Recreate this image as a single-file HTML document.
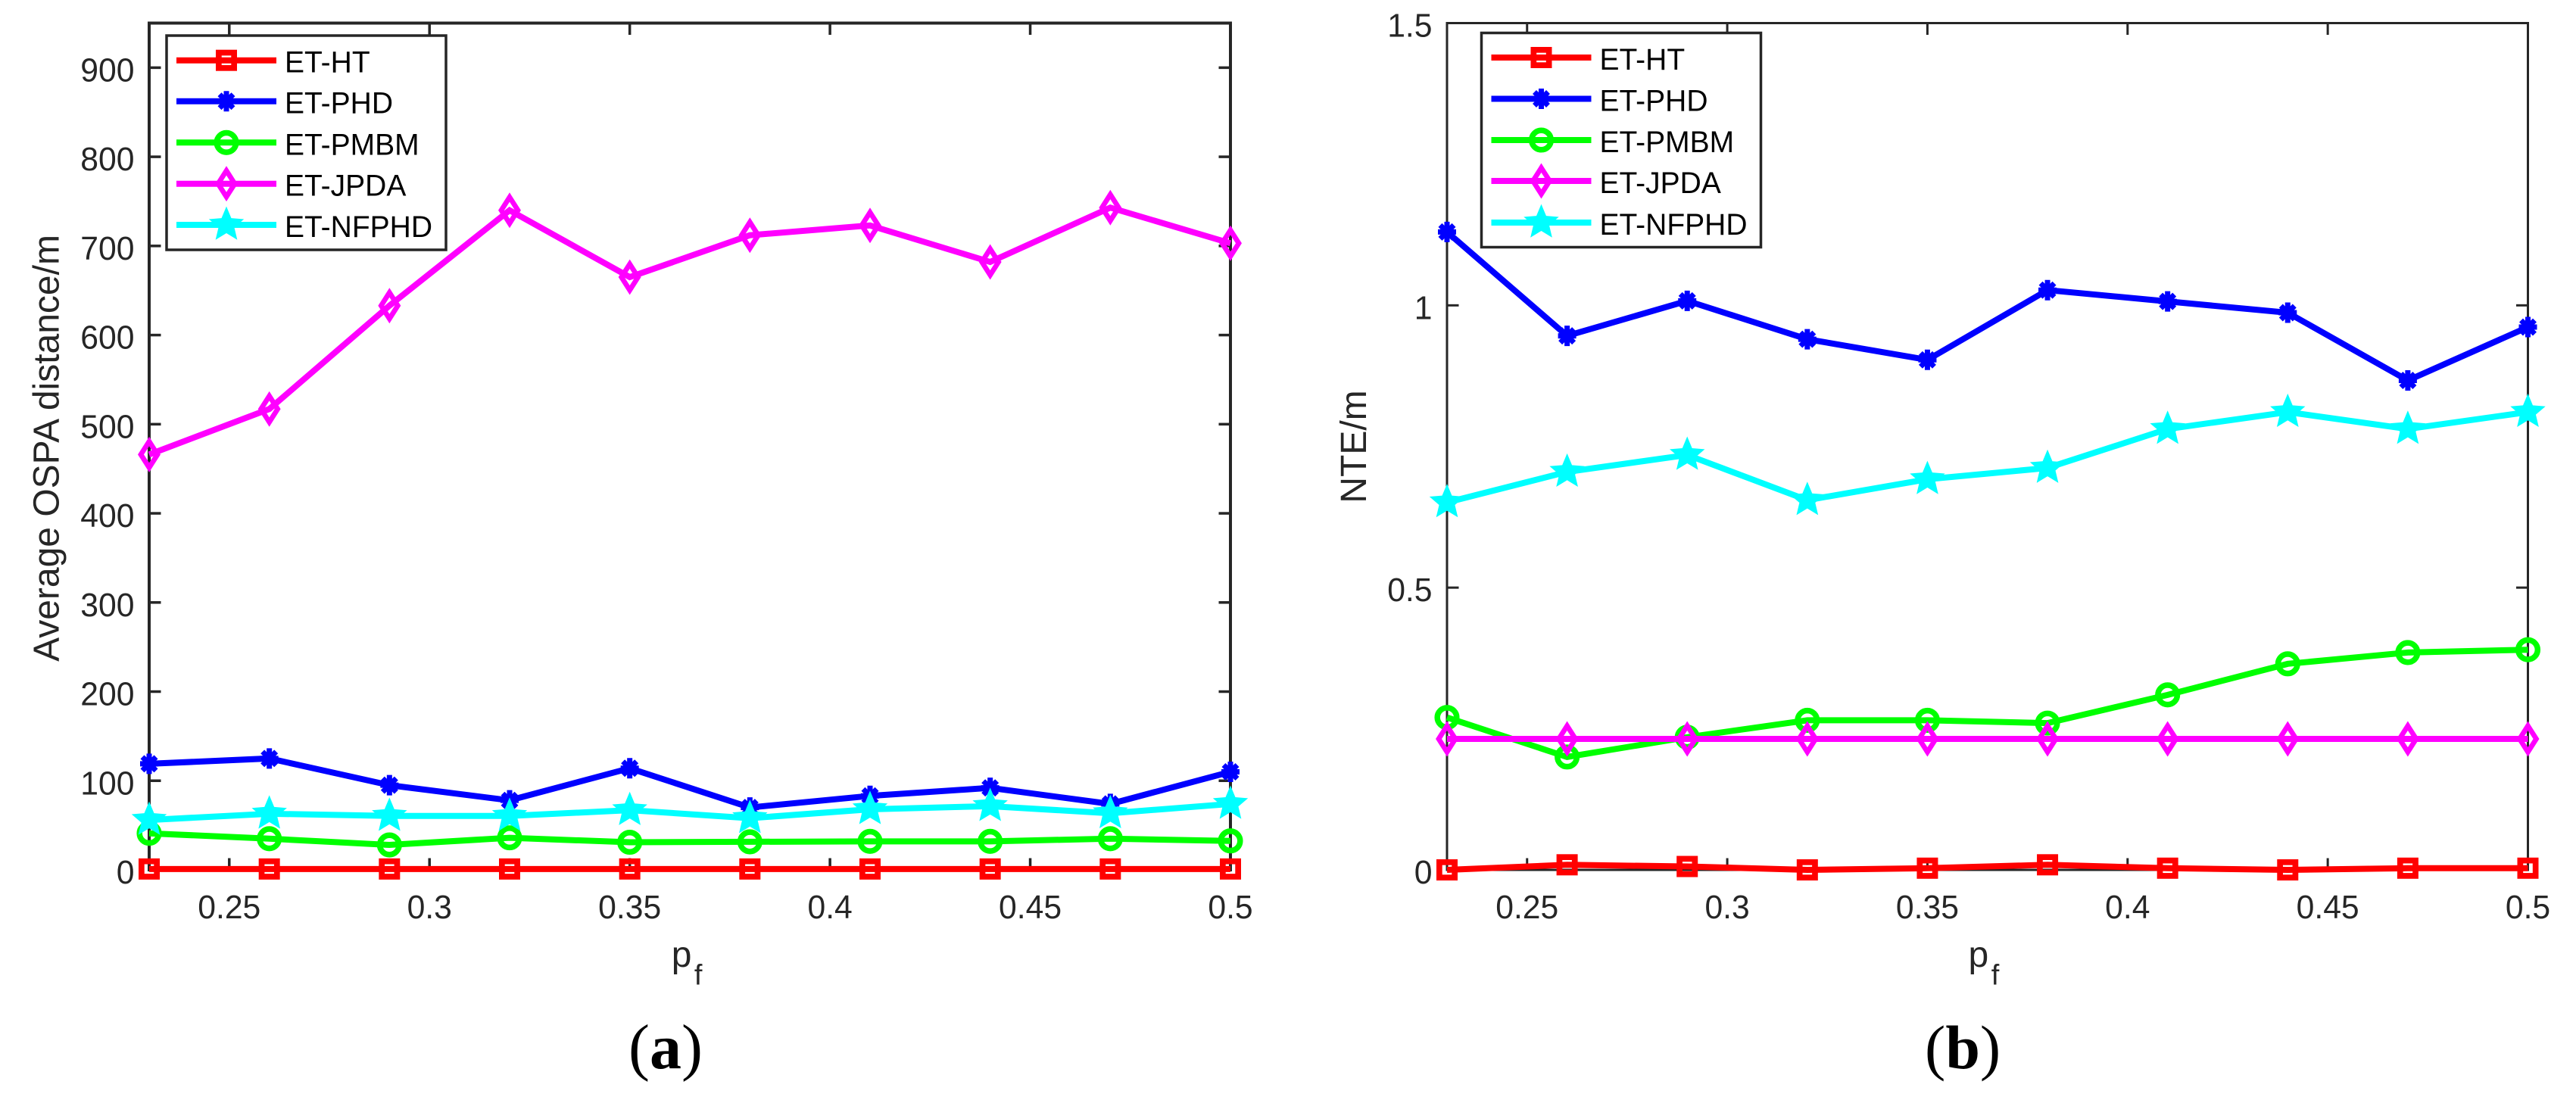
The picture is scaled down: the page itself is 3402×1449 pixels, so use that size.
<!DOCTYPE html>
<html lang="en">
<head>
<meta charset="utf-8">
<title>OSPA and NTE versus pf</title>
<style>
html,body{margin:0;padding:0;background:#fff;width:3402px;height:1449px;overflow:hidden}
svg{display:block;font-family:"Liberation Sans",sans-serif}
</style>
</head>
<body>
<svg id="figure" xmlns="http://www.w3.org/2000/svg" width="3402" height="1449" viewBox="0 0 3402 1449">
  <rect x="0" y="0" width="3402" height="1449" fill="#fff"/>
  <g id="panel-a"></g>
  <g id="panel-b"></g>
  <text transform="translate(77.5 592) rotate(-90)" text-anchor="middle" font-size="48" fill="#262626">Average OSPA distance/m</text>
  <text transform="translate(1804 590) rotate(-90)" text-anchor="middle" font-size="48" fill="#262626">NTE/m</text>
  <text x="886.7" y="1277" font-size="48" fill="#262626">p<tspan font-size="38" dx="3.5" dy="23.5">f</tspan></text>
  <text x="2599.5" y="1277" font-size="48" fill="#262626">p<tspan font-size="38" dx="3.5" dy="23.5">f</tspan></text>
  <text x="830" y="1411" font-size="84" fill="#000" style="font-family:'Liberation Serif',serif">(<tspan font-weight="bold">a</tspan>)</text>
  <text x="2542" y="1411" font-size="82" fill="#000" style="font-family:'Liberation Serif',serif">(<tspan font-weight="bold">b</tspan>)</text>
</svg>
<script>
const categories = [0.23, 0.26, 0.29, 0.32, 0.35, 0.38, 0.41, 0.44, 0.47, 0.5];
const seriesNames = ['ET-HT', 'ET-PHD', 'ET-PMBM', 'ET-JPDA', 'ET-NFPHD'];

const ospaHT = [1, 1, 1, 1, 1, 1, 1, 1, 1, 1];
const ospaPHD = [119, 125, 95, 78, 114, 70, 83, 92, 74, 110];
const ospaPMBM = [41, 35, 28, 36, 31, 31.5, 32, 32, 35, 32.5];
const ospaJPDA = [466, 517, 633, 740, 665, 712, 723, 682, 743, 703];
const ospaNFPHD = [56, 63, 60.5, 60.5, 67, 58, 68, 71.5, 63.5, 74];

const nteHT = [0, 0.009, 0.006, 0, 0.003, 0.009, 0.003, 0, 0.003, 0.003];
const ntePHD = [1.13, 0.946, 1.008, 0.94, 0.9035, 1.027, 1.007, 0.987, 0.867, 0.9615];
const ntePMBM = [0.27, 0.2, 0.235, 0.265, 0.265, 0.26, 0.31, 0.365, 0.385, 0.39];
const nteJPDA = [0.232, 0.232, 0.232, 0.232, 0.232, 0.232, 0.232, 0.232, 0.232, 0.232];
const nteNFPHD = [0.651, 0.705, 0.735, 0.655, 0.692, 0.712, 0.781, 0.811, 0.781, 0.811];

const xTickValues = [0.25, 0.3, 0.35, 0.4, 0.45, 0.5];
const xTickLabels = ['0.25', '0.3', '0.35', '0.4', '0.45', '0.5'];
const yTickValuesA = [0, 100, 200, 300, 400, 500, 600, 700, 800, 900];
const yTickLabelsA = ['0', '100', '200', '300', '400', '500', '600', '700', '800', '900'];
const yTickValuesB = [0, 0.5, 1, 1.5];
const yTickLabelsB = ['0', '0.5', '1', '1.5'];

const NS = 'http://www.w3.org/2000/svg';
const INK = '#262626';
const COLORS = ['#ff0000', '#0000ff', '#00ff00', '#ff00ff', '#00ffff'];
const MARKERS = ['square', 'asterisk', 'circle', 'diamond', 'star'];

function make(tag, parent, attrs) {
  const el = document.createElementNS(NS, tag);
  for (const k in attrs) el.setAttribute(k, attrs[k]);
  parent.appendChild(el);
  return el;
}

function drawMarker(parent, kind, cx, cy, color) {
  const g = make('g', parent, {});
  
  
  if (kind === 'square') {
    make('rect', g, {x: cx - 10.15, y: cy - 10.15, width: 20.3, height: 20.3, fill: 'none', stroke: color, 'stroke-width': 7.7});
  } else if (kind === 'circle') {
    make('circle', g, {cx: cx, cy: cy, r: 12.8, fill: 'none', stroke: color, 'stroke-width': 7.5});
  } else if (kind === 'diamond') {
    make('polygon', g, {points: [cx, cy - 17.25, cx + 11, cy, cx, cy + 17.25, cx - 11, cy].join(' '), fill: 'none', stroke: color, 'stroke-width': 6.7, 'stroke-miterlimit': 12});
  } else if (kind === 'asterisk') {
    const r = 12;
    const d = 9;
    make('circle', g, {cx: cx, cy: cy, r: 9, fill: color});
    make('path', g, {d: 'M' + cx + ' ' + (cy - r - 1.5) + 'V' + (cy + r + 1.5) + 'M' + (cx - r) + ' ' + cy + 'H' + (cx + r) + 'M' + (cx - d) + ' ' + (cy - d) + 'L' + (cx + d) + ' ' + (cy + d) + 'M' + (cx - d) + ' ' + (cy + d) + 'L' + (cx + d) + ' ' + (cy - d), stroke: color, 'stroke-width': 7, fill: 'none'});
  } else {
    const pts = [];
    for (let i = 0; i < 10; i++) {
      const rad = i % 2 === 0 ? 24.4 : 11;
      const a = -Math.PI / 2 + i * Math.PI / 5;
      pts.push((cx + rad * Math.cos(a)).toFixed(2) + ',' + (cy + rad * Math.sin(a)).toFixed(2));
    }
    make('polygon', g, {points: pts.join(' '), fill: color});
  }
}

function drawPanel(cfg) {
  const root = document.getElementById(cfg.id);
  const xScale = v => cfg.left + (v - cfg.xMin) / (cfg.xMax - cfg.xMin) * (cfg.right - cfg.left);
  const yScale = v => cfg.bottom - (v - cfg.yMin) / (cfg.yMax - cfg.yMin) * (cfg.bottom - cfg.top);

  const frame = make('rect', root, {x: cfg.left, y: cfg.top, width: cfg.right - cfg.left, height: cfg.bottom - cfg.top, fill: 'none', stroke: INK, 'stroke-width': cfg.axisWidth});
  
  

  const tickLen = 15.5;
  cfg.xTicks.forEach((v, i) => {
    const x = xScale(v);
    const t1 = make('line', root, {x1: x, x2: x, y1: cfg.bottom, y2: cfg.bottom - tickLen, stroke: INK, 'stroke-width': cfg.tickWidth});
    
    
    const t2 = make('line', root, {x1: x, x2: x, y1: cfg.top, y2: cfg.top + tickLen, stroke: INK, 'stroke-width': cfg.tickWidth});
    
    
    const label = make('text', root, {transform: 'translate(' + x + ' 1213) scale(0.97 1)', 'text-anchor': 'middle', 'font-size': 44, fill: INK});
    
    
    label.textContent = cfg.xLabels[i];
  });
  cfg.yTicks.forEach((v, i) => {
    const y = yScale(v);
    const t1 = make('line', root, {x1: cfg.left, x2: cfg.left + tickLen, y1: y, y2: y, stroke: INK, 'stroke-width': cfg.tickWidth});
    
    
    const t2 = make('line', root, {x1: cfg.right, x2: cfg.right - tickLen, y1: y, y2: y, stroke: INK, 'stroke-width': cfg.tickWidth});
    
    
    const label = make('text', root, {transform: 'translate(' + cfg.labelRight + ' ' + (y + 18) + ') scale(0.97 1)', 'text-anchor': 'end', 'font-size': 44, fill: INK});
    
    
    label.textContent = cfg.yLabels[i];
  });

  cfg.series.forEach((values, s) => {
    const g = make('g', root, {});
    
    
    const pts = values.map((v, i) => xScale(categories[i]).toFixed(2) + ',' + yScale(v).toFixed(2));
    const line = make('polyline', g, {points: pts.join(' '), fill: 'none', stroke: COLORS[s], 'stroke-width': 8, 'stroke-linejoin': 'miter'});
    
    
    values.forEach((v, i) => drawMarker(g, MARKERS[s], xScale(categories[i]), yScale(v), COLORS[s]));
  });

  const leg = make('g', root, {});
  
  
  const L = cfg.legend;
  const box = make('rect', leg, {x: L.x, y: L.y, width: L.w, height: L.h, fill: '#fff', stroke: INK, 'stroke-width': 3.5});
  
  
  seriesNames.forEach((name, s) => {
    const y = L.rows[s];
    const entry = make('g', leg, {});
    
    
    make('line', entry, {x1: L.x + 13, x2: L.x + 145, y1: y, y2: y, stroke: COLORS[s], 'stroke-width': 8});
    drawMarker(entry, MARKERS[s], L.x + 79, y, COLORS[s]);
    const t = make('text', entry, {transform: 'translate(' + (L.x + 156) + ' ' + (y + 16) + ') scale(0.975 1)', 'font-size': 40, fill: '#000'});
    
    
    t.textContent = name;
  });
}

drawPanel({
  id: 'panel-a', left: 197, right: 1625, top: 30.5, bottom: 1149,
  xMin: 0.23, xMax: 0.5, yMin: 0, yMax: 950, axisWidth: 4, tickWidth: 3.5, labelRight: 177.5,
  xTicks: xTickValues, xLabels: xTickLabels, yTicks: yTickValuesA, yLabels: yTickLabelsA,
  series: [ospaHT, ospaPHD, ospaPMBM, ospaJPDA, ospaNFPHD],
  legend: {x: 220, y: 47, w: 369, h: 283, rows: [79.7, 133.7, 188.3, 242.7, 297]}
});
drawPanel({
  id: 'panel-b', left: 1911, right: 3338.5, top: 30.5, bottom: 1149,
  xMin: 0.23, xMax: 0.5, yMin: 0, yMax: 1.5, axisWidth: 3, tickWidth: 3, labelRight: 1891.5,
  xTicks: xTickValues, xLabels: xTickLabels, yTicks: yTickValuesB, yLabels: yTickLabelsB,
  series: [nteHT, ntePHD, ntePMBM, nteJPDA, nteNFPHD],
  legend: {x: 1956.5, y: 43.5, w: 369, h: 283, rows: [76, 130.5, 185, 239, 294]}
});
</script>
</body>
</html>
